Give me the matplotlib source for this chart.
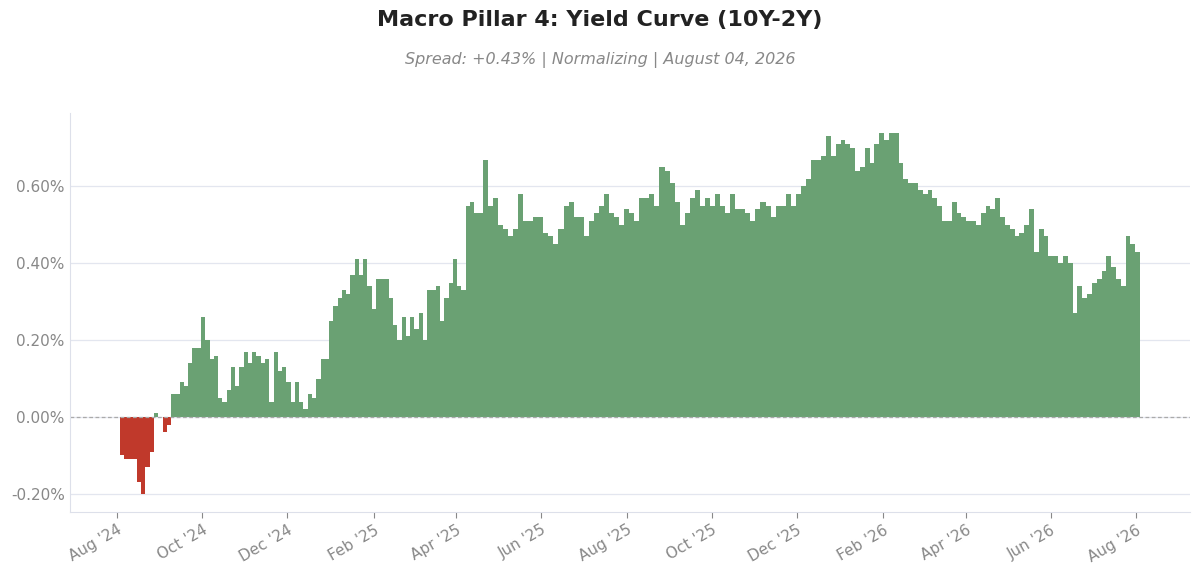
import matplotlib
matplotlib.use("Agg")
import matplotlib.pyplot as plt
import matplotlib.dates as mdates
import matplotlib.ticker as mticker
import pandas as pd
import numpy as np

# spread values (%), grouped by period; each period starts on the given date
seg_starts = ["2024-08-03", "2025-04-20", "2025-12-22"]
seg_end = "2026-08-04"
spread_a = [
 -0.10,-0.11,-0.11,-0.11,-0.17,-0.20,-0.13,-0.09,0.01,0.00,-0.04,-0.02,
 0.06,0.06,0.09,0.08,0.14,0.18,0.18,0.26,0.20,0.15,0.16,0.05,
 0.04,0.07,0.13,0.08,0.13,0.17,0.14,0.17,0.16,0.14,0.15,0.04,0.17,
 0.12,0.13,0.09,0.04,0.09,0.04,0.02,0.06,0.05,0.10,0.15,0.15,0.25,
 0.29,0.31,0.33,0.32,0.37,0.41,0.37,0.41,0.34,0.28,0.36,0.36,0.36,
 0.31,0.24,0.20,0.26,0.21,0.26,0.23,0.27,0.20,0.33,0.33,0.34,0.25,0.31,
 0.35,0.41,0.34,0.33,0.55,0.56,0.53,0.53]
spread_b = [
 0.67,0.55,0.57,0.50,0.49,0.47,
 0.49,0.58,0.51,0.51,0.52,0.52,0.48,0.47,0.45,0.49,0.55,0.56,0.52,0.52,
 0.47,0.51,0.53,0.55,0.58,0.53,0.52,0.50,0.54,0.53,0.51,0.57,0.57,0.58,
 0.55,0.65,0.64,0.61,0.56,0.50,0.53,0.57,0.59,0.55,0.57,0.55,0.58,0.55,
 0.53,0.58,0.54,0.54,0.53,0.51,0.54,0.56,0.55,0.52,0.55,0.55,0.58,0.55,
 0.58,0.60,0.62,0.67,0.67,0.68]
spread_c = [
 0.73,0.68,0.71,0.72,0.71,0.70,0.64,0.65,
 0.70,0.66,0.71,0.74,0.72,0.74,0.74,0.66,0.62,0.61,0.61,0.59,0.58,0.59,
 0.57,0.55,0.51,0.51,0.56,0.53,0.52,0.51,0.51,0.50,0.53,0.55,0.54,0.57,
 0.52,0.50,0.49,0.47,0.48,0.50,0.54,0.43,0.49,0.47,0.42,0.42,0.40,0.42,
 0.40,0.27,0.34,0.31,0.32,0.35,0.36,0.38,0.42,0.39,0.36,0.34,0.47,0.45,0.43]
segments = [spread_a, spread_b, spread_c]

fig = plt.figure(figsize=(12, 5.67), dpi=100)
ax = fig.add_axes([0.058, 0.097, 0.934, 0.703])
bounds = [pd.Timestamp(s) for s in seg_starts] + [pd.Timestamp(seg_end)]
for i, seg in enumerate(segments):
    d = pd.date_range(bounds[i], bounds[i + 1], periods=len(seg) + 1)[:-1]
    w = (bounds[i + 1] - bounds[i]).total_seconds() / 86400 / len(seg)
    v = np.array(seg)
    cols = ["#6aa173" if x >= 0 else "#c0392b" for x in v]
    ax.bar(d, v, width=w, color=cols, linewidth=0, align="edge")
ax.axhline(0, color="#aaaaaa", lw=0.9, ls=(0, (3, 2)))

ax.set_xlim(pd.Timestamp("2024-06-28"), pd.Timestamp("2026-09-09"))
ax.set_ylim(-0.247, 0.79)
ax.yaxis.set_major_locator(mticker.MultipleLocator(0.2))
ax.yaxis.set_major_formatter(mticker.FuncFormatter(lambda v, p: f"{v:.2f}%"))
ax.xaxis.set_major_locator(mdates.MonthLocator(bymonth=[2, 4, 6, 8, 10, 12]))
ax.xaxis.set_major_formatter(mdates.DateFormatter("%b '%y"))
ax.grid(axis="y", color="#e3e6ef", lw=0.9)
ax.set_axisbelow(True)
for s in ["top", "right"]:
    ax.spines[s].set_visible(False)
for s in ["left", "bottom"]:
    ax.spines[s].set_color("#dde0ea")
ax.tick_params(axis="both", colors="#888888", labelsize=11, length=4)
ax.tick_params(axis="y", length=0)
plt.setp(ax.get_xticklabels(), rotation=30, ha="right", rotation_mode="anchor")

fig.text(0.5, 0.965, "Macro Pillar 4: Yield Curve (10Y-2Y)", ha="center", va="center",
         fontsize=16, fontweight="bold", color="#222222")
fig.text(0.5, 0.895, "Spread: +0.43% | Normalizing | August 04, 2026", ha="center", va="center",
         fontsize=11.5, style="italic", color="#888888")
fig.savefig("out.png", dpi=100)
